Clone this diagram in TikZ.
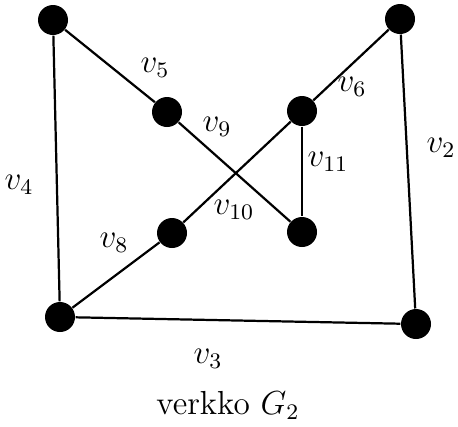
\documentclass[tikz,border=0pt]{standalone}
\begin{document}
\begin{tikzpicture}[x=0.36pt,y=-0.36pt,
  vtx/.style={circle,fill=black,inner sep=0pt,minimum size=10.8pt},
  edge/.style={line width=0.8pt},
  lbl/.style={inner sep=0pt,font=\large}]
\useasboundingbox (0,0) rectangle (458,426);
\node[vtx] (A) at (53,20) {};
\node[vtx] (B) at (400,19) {};
\node[vtx] (C) at (167,112) {};
\node[vtx] (D) at (302,111) {};
\node[vtx] (E) at (172,233) {};
\node[vtx] (F) at (302,232) {};
\node[vtx] (G) at (60,317) {};
\node[vtx] (H) at (416,324) {};
\draw[edge] (A) -- (G);
\draw[edge] (A) -- (C);
\draw[edge] (C) -- (F);
\draw[edge] (B) -- (D);
\draw[edge] (D) -- (E);
\draw[edge] (E) -- (G);
\draw[edge] (D) -- (F);
\draw[edge] (B) -- (H);
\draw[edge] (G) -- (H);
\node[lbl] (l5) at (155,68) {$v_5$};
\node[lbl] (l6) at (352,87) {$v_6$};
\node[lbl] (l9) at (217,127) {$v_9$};
\node[lbl] (l11) at (328,162) {$v_{11}$};
\node[lbl] (l2) at (441,148) {$v_2$};
\node[lbl] (l4) at (19,185) {$v_4$};
\node[lbl] (l10) at (234,210) {$v_{10}$};
\node[lbl] (l8) at (114,243) {$v_8$};
\node[lbl] (l3) at (208,359) {$v_3$};
\node[lbl] (cap) at (228,405) {verkko $G_2$};
\end{tikzpicture}
\end{document}
